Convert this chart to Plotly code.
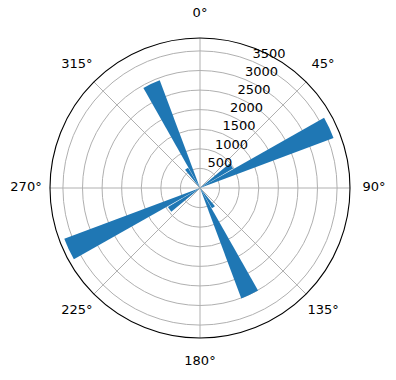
import plotly.graph_objects as go

# Direction bins (degrees, clockwise from north) and counts
directions = [55, 65, 145, 155, 235, 245, 325, 335]
counts = [980, 3640, 600, 3010, 950, 3700, 600, 2935]
bar_width = 9
r_max = 3830
radial_ticks = [500, 1000, 1500, 2000, 2500, 3000, 3500]
radial_label_angle = 22.5
angle_ticks = [0, 45, 90, 135, 180, 225, 270, 315]
angle_labels = [f"{a}°" for a in angle_ticks]

W, H = 396, 380
# main polar: centre (200,188), radius 150 px; label ring: radius 188 px
main_dom = dict(x=[50 / W, 350 / W], y=[(H - 338) / H, (H - 38) / H])
label_dom = dict(x=[12 / W, 388 / W], y=[(H - 376) / H, 1.0])
label_r = 174 / 188

fig = go.Figure()
fig.add_trace(go.Barpolar(
    theta=directions, r=counts, width=[bar_width] * len(directions),
    marker=dict(color="#1f77b4", line=dict(width=0)),
    hoverinfo="skip",
))
# radial tick labels (left/bottom aligned at the ring, like matplotlib)
fig.add_trace(go.Scatterpolar(
    r=radial_ticks, theta=[radial_label_angle] * len(radial_ticks),
    mode="text", text=[str(v) for v in radial_ticks],
    textposition="top right", cliponaxis=False,
    textfont=dict(family="DejaVu Sans", size=13, color="black"),
    hoverinfo="skip",
))
# angular tick labels, centred outside the circle
fig.add_trace(go.Scatterpolar(
    r=[label_r] * len(angle_ticks), theta=angle_ticks,
    mode="text", text=angle_labels,
    textposition="middle center", cliponaxis=False,
    textfont=dict(family="DejaVu Sans", size=13, color="black"),
    hoverinfo="skip", subplot="polar2",
))

hidden_axis = dict(visible=False, showgrid=False, showline=False, showticklabels=False, ticks="")
fig.update_layout(
    width=W, height=H,
    margin=dict(l=0, r=0, t=0, b=0),
    paper_bgcolor="white",
    font=dict(family="DejaVu Sans", size=13, color="black"),
    showlegend=False,
    polar=dict(
        domain=main_dom,
        bgcolor="white",
        bargap=0,
        angularaxis=dict(
            direction="clockwise", rotation=90,
            tickmode="array", tickvals=angle_ticks,
            showticklabels=False,
            showgrid=True, gridcolor="#b0b0b0", gridwidth=1.1,
            showline=True, linecolor="black", linewidth=1.1,
            ticks="",
        ),
        radialaxis=dict(
            range=[0, r_max], tickmode="array", tickvals=radial_ticks,
            showticklabels=False,
            showgrid=True, gridcolor="#b0b0b0", gridwidth=1.1,
            showline=False, ticks="",
        ),
    ),
    polar2=dict(
        domain=label_dom,
        bgcolor="rgba(0,0,0,0)",
        angularaxis=dict(direction="clockwise", rotation=90, **hidden_axis),
        radialaxis=dict(range=[0, 1], **hidden_axis),
    ),
)

fig.write_html("out.html")
